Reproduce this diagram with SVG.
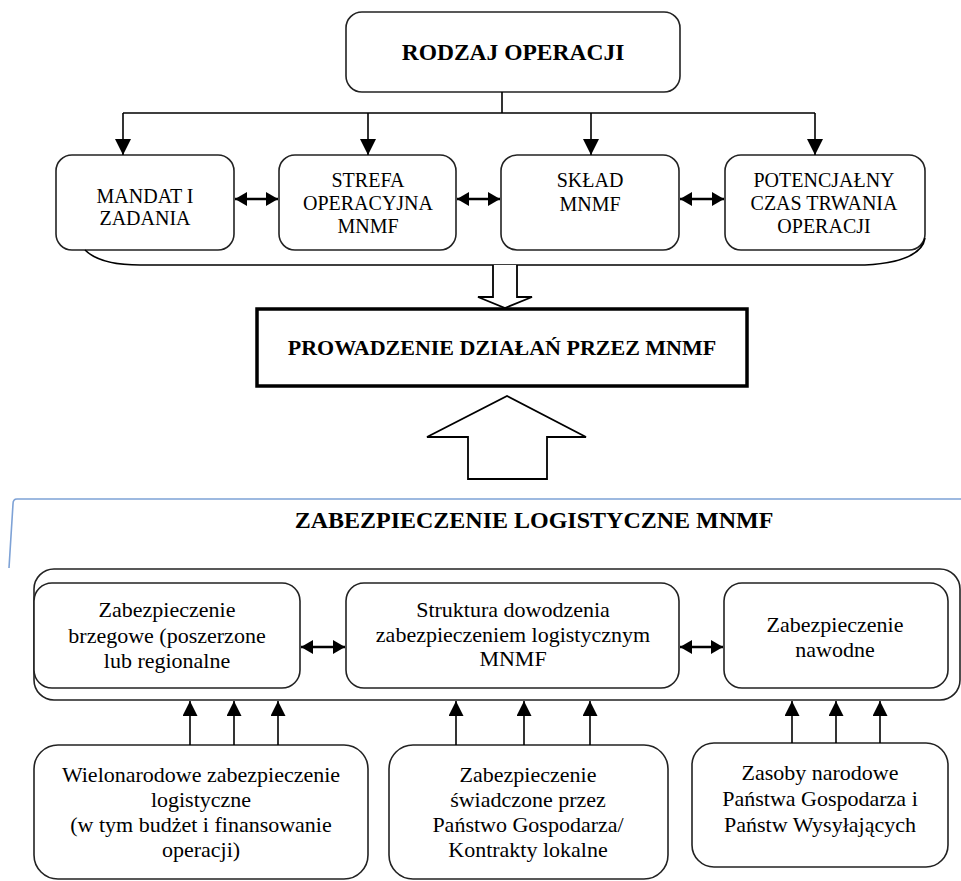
<svg xmlns="http://www.w3.org/2000/svg" width="961" height="881" viewBox="0 0 961 881">
  <style>
    .box { fill: #ffffff; stroke: #222222; stroke-width: 1.6; }
    .bold { font-family: "Liberation Serif", "Times New Roman", serif; font-weight: bold; fill: #000000; text-anchor: middle; }
    .caps { font-family: "Liberation Serif", "Times New Roman", serif; font-size: 20px; fill: #000000; text-anchor: middle; }
    .txt { font-family: "Liberation Serif", "Times New Roman", serif; font-size: 22px; fill: #000000; text-anchor: middle; }
    .wire { fill: none; stroke: #000000; stroke-width: 1.6; }
    .dbl { fill: none; stroke: #000000; stroke-width: 2.6; }
    .hollow { fill: #ffffff; stroke: #000000; stroke-width: 1.8; stroke-linejoin: miter; }
  </style>
  <defs>
    <marker id="head" viewBox="0 0 16 16" refX="16" refY="8" markerWidth="16" markerHeight="16" markerUnits="userSpaceOnUse" orient="auto">
      <path d="M0,0 L16,8 L0,16 Z" fill="#000000"/>
    </marker>
    <marker id="headSmall" viewBox="0 0 12 14" refX="12" refY="7" markerWidth="12" markerHeight="14" markerUnits="userSpaceOnUse" orient="auto-start-reverse">
      <path d="M0,0 L12,7 L0,14 Z" fill="#000000"/>
    </marker>
    <marker id="headUp" viewBox="0 0 15 15" refX="15" refY="7.5" markerWidth="15" markerHeight="15" markerUnits="userSpaceOnUse" orient="auto">
      <path d="M0,0 L15,7.5 L0,15 Z" fill="#000000"/>
    </marker>
  </defs>

  <!-- operation type -->
  <g id="rodzaj-operacji">
    <rect class="box" x="346" y="12" width="334" height="80" rx="16"/>
    <text class="bold" x="513" y="60" font-size="23.5">RODZAJ OPERACJI</text>
  </g>

  <!-- operation factors -->
  <g id="mandat">
    <rect class="box" x="56" y="155" width="178" height="95" rx="16"/>
    <text class="caps" x="145" y="203">MANDAT I</text>
    <text class="caps" x="145" y="225">ZADANIA</text>
  </g>
  <g id="strefa">
    <rect class="box" x="279" y="155" width="177" height="95" rx="16"/>
    <text class="caps" x="368" y="187">STREFA</text>
    <text class="caps" x="368" y="210">OPERACYJNA</text>
    <text class="caps" x="368" y="233">MNMF</text>
  </g>
  <g id="sklad">
    <rect class="box" x="501" y="155" width="178" height="95" rx="16"/>
    <text class="caps" x="590" y="187">SKŁAD</text>
    <text class="caps" x="590" y="211">MNMF</text>
  </g>
  <g id="czas-trwania">
    <rect class="box" x="725" y="155" width="200" height="95" rx="16"/>
    <text class="caps" x="824" y="187">POTENCJAŁNY</text>
    <text class="caps" x="824" y="210">CZAS TRWANIA</text>
    <text class="caps" x="824" y="233">OPERACJI</text>
  </g>

  <!-- conduct of operations -->
  <g id="prowadzenie">
    <rect x="257" y="309" width="490" height="77" fill="#ffffff" stroke="#000000" stroke-width="3.5"/>
    <text class="bold" x="502" y="355" font-size="22">PROWADZENIE DZIAŁAŃ PRZEZ MNMF</text>
  </g>

  <!-- logistic support frame -->
  <g id="zabezpieczenie-logistyczne">
    <path d="M961,499 L17,499 Q13,499 13,504 L9,568" fill="none" stroke="#7ea2d6" stroke-width="1.6"/>
    <text class="bold" x="534" y="528" font-size="24">ZABEZPIECZENIE LOGISTYCZNE MNMF</text>
    <rect class="box" x="34" y="569" width="926" height="131" rx="20"/>
  </g>

  <g id="brzegowe">
    <rect class="box" x="34" y="583" width="266" height="105" rx="18"/>
    <text class="txt" x="167" y="617">Zabezpieczenie</text>
    <text class="txt" x="167" y="643">brzegowe (poszerzone</text>
    <text class="txt" x="167" y="668">lub regionalne</text>
  </g>
  <g id="struktura-dowodzenia">
    <rect class="box" x="346" y="583" width="333" height="105" rx="18"/>
    <text class="txt" x="513" y="617">Struktura dowodzenia</text>
    <text class="txt" x="513" y="642">zabezpieczeniem logistycznym</text>
    <text class="txt" x="513" y="666">MNMF</text>
  </g>
  <g id="nawodne">
    <rect class="box" x="724" y="583" width="224" height="105" rx="18"/>
    <text class="txt" x="835" y="632">Zabezpieczenie</text>
    <text class="txt" x="835" y="657">nawodne</text>
  </g>

  <!-- sources of support -->
  <g id="wielonarodowe">
    <rect class="box" x="34" y="745" width="334" height="134" rx="24"/>
    <text class="txt" x="201" y="782">Wielonarodowe zabezpieczenie</text>
    <text class="txt" x="201" y="807">logistyczne</text>
    <text class="txt" x="201" y="832">(w tym budżet i finansowanie</text>
    <text class="txt" x="201" y="857">operacji)</text>
  </g>
  <g id="panstwo-gospodarza">
    <rect class="box" x="389" y="745" width="279" height="134" rx="24"/>
    <text class="txt" x="528" y="782">Zabezpieczenie</text>
    <text class="txt" x="528" y="807">świadczone przez</text>
    <text class="txt" x="528" y="832">Państwo Gospodarza/</text>
    <text class="txt" x="528" y="857">Kontrakty lokalne</text>
  </g>
  <g id="zasoby-narodowe">
    <rect class="box" x="692" y="743" width="256" height="124" rx="22"/>
    <text class="txt" x="820" y="780">Zasoby narodowe</text>
    <text class="txt" x="820" y="806">Państwa Gospodarza i</text>
    <text class="txt" x="820" y="832">Państw Wysyłających</text>
  </g>

  <!-- connectors -->
  <g id="connectors">
    <!-- fan-out from operation type -->
    <path class="wire" d="M502,92 V113 M123,113 H815"/>
    <path class="wire" d="M123,113 V155" marker-end="url(#head)"/>
    <path class="wire" d="M368,113 V155" marker-end="url(#head)"/>
    <path class="wire" d="M591,113 V155" marker-end="url(#head)"/>
    <path class="wire" d="M815,113 V155" marker-end="url(#head)"/>

    <!-- links between factors -->
    <path class="dbl" d="M235,199 H278" marker-start="url(#headSmall)" marker-end="url(#headSmall)"/>
    <path class="dbl" d="M457,199 H500" marker-start="url(#headSmall)" marker-end="url(#headSmall)"/>
    <path class="dbl" d="M680,199 H724" marker-start="url(#headSmall)" marker-end="url(#headSmall)"/>

    <!-- brace under the factors -->
    <path class="wire" d="M85,250 Q100,265 140,265 H865 Q921,262 925,238"/>

    <!-- small hollow arrow into conduct box -->
    <path class="hollow" d="M493,265 V297 H478 L505,308 L532,297 H517 V265"/>

    <!-- large hollow arrow up from logistic support -->
    <path class="hollow" d="M468,479 V437 H427 L507,396 L586,437 H547 V479 Z"/>

    <!-- links between support areas -->
    <path class="dbl" d="M301,647 H345" marker-start="url(#headSmall)" marker-end="url(#headSmall)"/>
    <path class="dbl" d="M680,647 H723" marker-start="url(#headSmall)" marker-end="url(#headSmall)"/>

    <!-- sources feeding the support frame -->
    <path class="wire" d="M190,745 V701" marker-end="url(#headUp)"/>
    <path class="wire" d="M234,745 V701" marker-end="url(#headUp)"/>
    <path class="wire" d="M278,745 V701" marker-end="url(#headUp)"/>
    <path class="wire" d="M456,745 V701" marker-end="url(#headUp)"/>
    <path class="wire" d="M524,745 V701" marker-end="url(#headUp)"/>
    <path class="wire" d="M590,745 V701" marker-end="url(#headUp)"/>
    <path class="wire" d="M792,743 V701" marker-end="url(#headUp)"/>
    <path class="wire" d="M836,743 V701" marker-end="url(#headUp)"/>
    <path class="wire" d="M880,743 V701" marker-end="url(#headUp)"/>
  </g>
</svg>
